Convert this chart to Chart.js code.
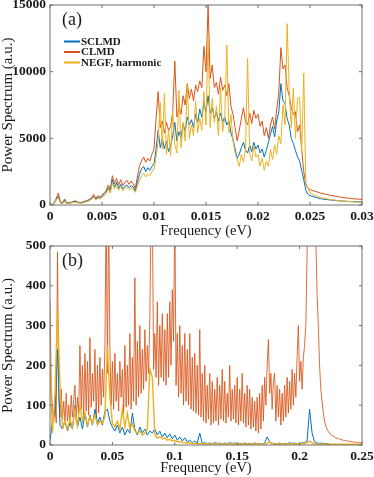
<!DOCTYPE html>
<html>
<head>
<meta charset="utf-8">
<script src="https://cdn.jsdelivr.net/npm/chart.js@4.4.0/dist/chart.umd.min.js"></script>
<style>
  html, body { margin: 0; padding: 0; background: #fff; }
  #wrap { position: relative; width: 374px; height: 477px; }
  #chartA { position: absolute; left: 0; top: 0; }
  #chartB { position: absolute; left: 0; top: 240px; }
</style>
</head>
<body>
<div id="wrap">
  <canvas id="chartA" width="374" height="240"></canvas>
  <canvas id="chartB" width="374" height="237"></canvas>
</div>
<script>
const seriesNames = ['SCLMD', 'CLMD', 'NEGF, harmonic'];
const seriesColors = ['#0072BD', '#D95319', '#EDB120'];

// panel (a): 0 - 0.03 eV
const freqA = [
  0,0.0002,0.0004,0.0006,0.0008,0.001,0.0012,0.0014,0.0016,0.0018,
  0.002,0.0022,0.0024,0.0026,0.0028,0.003,0.0032,0.0034,0.0036,0.0038,
  0.004,0.0042,0.0044,0.0046,0.0048,0.005,0.0052,0.0054,0.0056,0.0058,
  0.006,0.0062,0.0064,0.0066,0.0068,0.007,0.0072,0.0074,0.0076,0.0078,
  0.008,0.0082,0.0084,0.0086,0.0088,0.009,0.0092,0.0094,0.0096,0.0098,
  0.01,0.0102,0.0104,0.0106,0.0108,0.011,0.0112,0.0114,0.0116,0.0118,
  0.012,0.0122,0.0124,0.0126,0.0128,0.013,0.0132,0.0134,0.0136,0.0138,
  0.014,0.0142,0.0144,0.0146,0.0148,0.015,0.0152,0.0154,0.0156,0.0158,
  0.016,0.0162,0.0164,0.0166,0.0168,0.017,0.0172,0.0174,0.0176,0.0178,
  0.018,0.0182,0.0184,0.0186,0.0188,0.019,0.0192,0.0194,0.0196,0.0198,
  0.02,0.0202,0.0204,0.0206,0.0208,0.021,0.0212,0.0214,0.0216,0.0218,
  0.022,0.0222,0.0224,0.0226,0.0228,0.023,0.0232,0.0234,0.0236,0.0238,
  0.024,0.0242,0.0244,0.0246,0.0248,0.025,
  0.026,0.027,0.028,0.029,0.03
];
const sclmdA = [
  0,40,120,400,650,200,120,350,130,150,
  170,210,270,210,170,160,210,250,300,380,
  480,650,420,600,500,640,780,950,1300,1050,
  1900,1350,1700,1250,1550,1200,1400,1500,1300,1450,
  1350,1050,1700,2300,2700,2900,2500,2800,2600,2900,
  3100,4200,5600,4300,5000,4200,4800,4000,4400,5200,
  6200,4800,5500,5000,6100,5500,6600,6000,6400,5800,
  6800,6200,7200,6600,7700,7000,8200,6900,7300,6500,
  7000,6300,6900,6200,6600,6000,6300,5400,4900,4200,
  3500,3800,4300,4700,4100,3900,4500,4000,4700,4200,
  4500,3900,4200,3600,4100,4700,5300,5900,5100,6300,
  7000,9100,7800,7600,6500,6000,5000,4600,4100,3600,
  3300,2600,1900,1100,800,700,
  470,370,300,260,230
];
const clmdA = [
  0,50,150,500,900,250,150,450,150,180,
  200,250,320,250,200,180,250,300,350,450,
  550,800,500,700,600,750,900,1100,1500,1200,
  2200,1600,2000,1500,1900,1450,1700,1850,1550,1800,
  1600,1250,2100,2900,3300,3600,3200,3500,3300,3800,
  4200,6500,8500,5800,6300,5400,6200,5600,5900,7000,
  10800,6600,7400,6800,8200,7500,9100,8000,8700,7800,
  9000,8500,9300,8800,11900,10000,15000,9500,10500,8800,
  9200,8300,9600,8600,9000,8200,9100,7400,6800,5800,
  4800,5600,6500,7300,6200,6000,6900,6100,7100,6500,
  6800,5900,6300,5200,5800,5000,6000,6600,5700,7200,
  8400,11800,10200,10500,8800,8200,7300,6800,7000,5500,
  6000,4200,2500,1600,1300,1150,
  900,720,580,480,420
];
const negfA = [
  0,30,100,400,550,150,100,300,120,130,
  150,180,220,180,150,140,170,220,260,330,
  420,600,380,520,450,560,700,850,1200,900,
  1700,1200,1500,1100,1400,1050,1250,1350,1150,1300,
  1200,950,1400,1800,2200,2400,2100,2300,2200,2500,
  2700,3600,4800,7700,4200,8400,3800,5600,3700,7000,
  4500,3900,8600,4300,6200,4800,9000,5000,6000,5200,
  7800,5400,6500,5600,8500,6000,12600,5800,8000,6200,
  7400,5200,8800,5500,6600,12000,5400,6800,4800,3900,
  3400,2900,3800,3200,4200,11000,3900,3300,4500,3600,
  3800,2900,3500,2600,3300,2900,4200,3400,4500,3800,
  5200,4600,7500,6000,13600,8600,5800,8800,5000,8000,
  8100,4000,9900,1500,1300,900,
  560,400,300,240,200
];
const xTicksA = ['0', '0.005', '0.01', '0.015', '0.02', '0.025', '0.03'];
const yTicksA = ['0', '5000', '10000', '15000'];

// panel (b): 0 - 0.25 eV, SCLMD and NEGF sampled every 0.002 eV
const freqB = [
  0,0.002,0.004,0.006,0.008,0.01,0.012,0.014,0.016,0.018,
  0.02,0.022,0.024,0.026,0.028,0.03,0.032,0.034,0.036,0.038,
  0.04,0.042,0.044,0.046,0.048,0.05,0.052,0.054,0.056,0.058,
  0.06,0.062,0.064,0.066,0.068,0.07,0.072,0.074,0.076,0.078,
  0.08,0.082,0.084,0.086,0.088,0.09,0.092,0.094,0.096,0.098,
  0.1,0.102,0.104,0.106,0.108,0.11,0.112,0.114,0.116,0.118,
  0.12,0.122,0.124,0.126,0.128,0.13,0.132,0.134,0.136,0.138,
  0.14,0.142,0.144,0.146,0.148,0.15,0.152,0.154,0.156,0.158,
  0.16,0.162,0.164,0.166,0.168,0.17,0.172,0.174,0.176,0.178,
  0.18,0.182,0.184,0.186,0.188,0.19,0.192,0.194,0.196,0.198,
  0.2,0.202,0.204,0.206,0.208,0.21,0.212,0.214,0.216,0.218,
  0.22,0.222,0.224,0.226,0.228,0.23,0.232,0.234,0.236,0.238,
  0.24,0.242,0.244,0.246,0.248,0.25
];
const sclmdB = [
  10,60,80,240,50,40,60,35,55,40,
  100,45,70,40,80,45,75,50,90,55,
  70,50,85,90,60,45,35,50,30,45,
  25,40,30,80,40,25,45,30,40,25,
  35,30,40,25,35,20,30,18,28,15,
  25,12,20,10,18,8,12,6,10,5,
  30,4,6,3,5,3,6,4,5,3,
  5,3,6,4,5,3,4,3,5,3,
  4,3,5,3,4,3,5,20,8,4,
  4,3,5,3,4,3,6,4,5,3,
  4,5,6,10,90,30,8,5,4,5,
  3,4,2,1,1,1,1,1,1,1,
  1,1,1,1,1,1
];
const negfB = [
  200,30,130,340,150,45,60,40,65,45,
  90,50,100,60,80,50,70,55,75,50,
  60,55,70,250,120,55,45,60,40,90,
  45,80,40,55,35,30,35,25,30,40,
  190,170,25,18,20,15,18,12,14,10,
  12,8,8,6,6,5,5,4,4,3,
  3,3,2,3,2,3,2,3,2,3,
  2,3,2,3,2,3,2,3,2,3,
  2,3,2,3,2,3,2,4,8,3,
  2,3,2,3,2,3,2,3,2,3,
  3,3,4,6,10,5,3,2,2,2,
  2,2,2,2,2,2,2,2,2,2,
  2,2,2,2,2,2
];
// CLMD in panel (b) is much noisier, sampled every 0.001 eV
const freqBFine = [
  0,0.001,0.002,0.003,0.004,0.005,0.006,0.007,0.008,0.009,
  0.01,0.011,0.012,0.013,0.014,0.015,0.016,0.017,0.018,0.019,
  0.02,0.021,0.022,0.023,0.024,0.025,0.026,0.027,0.028,0.029,
  0.03,0.031,0.032,0.033,0.034,0.035,0.036,0.037,0.038,0.039,
  0.04,0.041,0.042,0.043,0.044,0.045,0.046,0.047,0.048,0.049,
  0.05,0.051,0.052,0.053,0.054,0.055,0.056,0.057,0.058,0.059,
  0.06,0.061,0.062,0.063,0.064,0.065,0.066,0.067,0.068,0.069,
  0.07,0.071,0.072,0.073,0.074,0.075,0.076,0.077,0.078,0.079,
  0.08,0.081,0.082,0.083,0.084,0.085,0.086,0.087,0.088,0.089,
  0.09,0.091,0.092,0.093,0.094,0.095,0.096,0.097,0.098,0.099,
  0.1,0.101,0.102,0.103,0.104,0.105,0.106,0.107,0.108,0.109,
  0.11,0.111,0.112,0.113,0.114,0.115,0.116,0.117,0.118,0.119,
  0.12,0.121,0.122,0.123,0.124,0.125,0.126,0.127,0.128,0.129,
  0.13,0.131,0.132,0.133,0.134,0.135,0.136,0.137,0.138,0.139,
  0.14,0.141,0.142,0.143,0.144,0.145,0.146,0.147,0.148,0.149,
  0.15,0.151,0.152,0.153,0.154,0.155,0.156,0.157,0.158,0.159,
  0.16,0.161,0.162,0.163,0.164,0.165,0.166,0.167,0.168,0.169,
  0.17,0.171,0.172,0.173,0.174,0.175,0.176,0.177,0.178,0.179,
  0.18,0.181,0.182,0.183,0.184,0.185,0.186,0.187,0.188,0.189,
  0.19,0.191,0.192,0.193,0.194,0.195,0.196,0.197,0.198,0.199,
  0.2,0.201,0.202,0.203,0.204,0.205,0.206,0.207,0.208,0.209,
  0.21,0.211,0.212,0.213,0.214,0.215,0.216,0.217,0.218,0.219,
  0.22,0.221,0.222,0.223,0.224,0.225,0.226,0.227,0.228,0.229,
  0.23,0.231,0.232,0.233,0.234,0.235,0.236,0.237,0.238,0.239,
  0.24,0.241,0.242,0.243,0.244,0.245,0.246,0.247,0.248,0.249,
  0.25
];
const clmdB = [
  360,150,90,60,100,55,485,120,70,140,
  65,110,55,130,60,100,50,125,70,115,
  150,60,120,80,250,90,200,70,230,85,
  210,75,270,95,180,110,240,70,200,80,
  220,100,190,120,250,600,180,600,240,100,
  210,90,230,110,180,85,210,120,190,80,
  250,95,200,100,280,90,220,110,420,100,
  260,120,300,130,240,140,290,160,250,180,
  320,600,600,190,280,170,360,150,300,170,
  330,160,290,150,330,170,360,200,390,260,
  600,150,280,120,300,130,250,100,280,110,
  240,100,280,90,220,85,230,80,200,75,
  290,70,180,60,200,55,150,65,180,50,
  160,55,140,60,170,50,150,65,190,60,
  160,55,130,70,200,60,140,65,150,55,
  170,50,140,60,180,55,130,45,150,50,
  140,40,120,45,110,35,120,30,130,40,
  150,60,170,100,200,265,130,180,90,160,
  180,60,150,70,140,50,130,60,150,70,
  170,80,160,90,190,100,180,120,220,300,
  160,210,140,220,250,300,480,600,600,600,
  600,600,600,520,380,300,200,140,110,80,
  60,48,40,34,30,26,24,22,20,18,
  17,16,15,14,13,12,11,11,10,10,
  9,9,8,8,7,7,7,6,6,6,
  5
];
const xTicksB = ['0', '0.05', '0.1', '0.15', '0.2', '0.25'];
const yTicksB = ['0', '100', '200', '300', '400', '500'];

const serif = '"Liberation Serif", "DejaVu Serif", serif';
const ink = '#1a1a1a';

const toPoints = (xs, ys) => xs.map((x, i) => ({ x: x, y: ys[i] }));

// frame, inward ticks, panel letter and legend
const decor = {
  id: 'decor',
  afterDatasetsDraw(chart, args, opts) {
    const ctx = chart.ctx;
    const a = chart.chartArea;
    const sx = chart.scales.x, sy = chart.scales.y;
    ctx.save();
    ctx.strokeStyle = '#707070';
    ctx.lineWidth = 1;
    ctx.strokeRect(a.left, a.top, a.right - a.left, a.bottom - a.top);
    ctx.beginPath();
    sx.ticks.forEach(t => {
      const px = sx.getPixelForValue(t.value);
      ctx.moveTo(px, a.bottom); ctx.lineTo(px, a.bottom - 3);
      ctx.moveTo(px, a.top); ctx.lineTo(px, a.top + 3);
    });
    sy.ticks.forEach(t => {
      const py = sy.getPixelForValue(t.value);
      ctx.moveTo(a.left, py); ctx.lineTo(a.left + 3, py);
      ctx.moveTo(a.right, py); ctx.lineTo(a.right - 3, py);
    });
    ctx.stroke();

    ctx.fillStyle = ink;
    ctx.textBaseline = 'middle';
    ctx.textAlign = 'left';
    ctx.font = '18px ' + serif;
    ctx.fillText(opts.label, a.left + 12, a.top + 15);

    if (opts.legend) {
      ctx.font = 'bold 11px ' + serif;
      chart.data.datasets.forEach((ds, i) => {
        const y = a.top + 36.5 + i * 10.5;
        ctx.strokeStyle = ds.borderColor;
        ctx.lineWidth = 2;
        ctx.beginPath();
        ctx.moveTo(a.left + 14, y);
        ctx.lineTo(a.left + 30, y);
        ctx.stroke();
        ctx.fillStyle = ink;
        ctx.fillText(ds.label, a.left + 31, y + 0.5);
      });
    }
    ctx.restore();
  }
};

function makeChart(id, cfg) {
  return new Chart(document.getElementById(id), {
    type: 'line',
    data: {
      datasets: [
        { label: seriesNames[0], data: toPoints(cfg.freq, cfg.sclmd), borderColor: seriesColors[0], borderWidth: 1, order: 1 },
        { label: seriesNames[1], data: toPoints(cfg.clmdFreq, cfg.clmd), borderColor: cfg.clmdColor, borderWidth: 1, order: 2 },
        { label: seriesNames[2], data: toPoints(cfg.freq, cfg.negf), borderColor: seriesColors[2], borderWidth: cfg.negfWidth, order: 0 }
      ]
    },
    options: {
      responsive: false,
      animation: false,
      devicePixelRatio: 1,
      elements: { point: { radius: 0 }, line: { tension: 0 } },
      layout: { padding: { top: cfg.padTop, right: 12, bottom: 0, left: 0 } },
      plugins: {
        legend: { display: false },
        tooltip: { enabled: false },
        decor: { label: cfg.label, legend: cfg.legend }
      },
      scales: {
        x: {
          type: 'linear', min: 0, max: cfg.xMax,
          grid: { display: false, drawTicks: false },
          border: { display: false },
          ticks: {
            stepSize: cfg.xStep, autoSkip: false, maxRotation: 0, padding: 3, color: ink,
            font: { family: serif, size: 13.5, weight: 'bold' },
            callback: (v, i) => cfg.xTicks[i]
          },
          title: { display: true, text: 'Frequency (eV)', color: ink, padding: 0,
                   font: { family: serif, size: 14.5, lineHeight: 1.2 } },
          afterFit: s => { s.height = cfg.xAxisH; s.paddingLeft = 0; s.paddingRight = 0; }
        },
        y: {
          min: 0, max: cfg.yMax,
          grid: { display: false, drawTicks: false },
          border: { display: false },
          ticks: {
            stepSize: cfg.yStep, padding: 4, color: ink,
            font: { family: serif, size: 13.5, weight: 'bold' },
            callback: (v, i) => cfg.yTicks[i]
          },
          title: { display: true, text: 'Power Spectrum (a.u.)', color: ink, padding: 0,
                   font: { family: serif, size: 15, lineHeight: 1.1 } },
          afterFit: s => { s.width = 50; s.paddingTop = 0; s.paddingBottom = 0; }
        }
      }
    },
    plugins: [decor]
  });
}

makeChart('chartA', {
  freq: freqA, sclmd: sclmdA, clmdFreq: freqA, clmd: clmdA, negf: negfA,
  clmdColor: seriesColors[1], negfWidth: 1,
  xMax: 0.03, xStep: 0.005, xTicks: xTicksA,
  yMax: 15000, yStep: 5000, yTicks: yTicksA,
  padTop: 5, xAxisH: 35, label: '(a)', legend: true
});

makeChart('chartB', {
  freq: freqB, sclmd: sclmdB, clmdFreq: freqBFine, clmd: clmdB, negf: negfB,
  clmdColor: 'rgba(217,83,25,0.85)', negfWidth: 1.4,
  xMax: 0.25, xStep: 0.05, xTicks: xTicksB,
  yMax: 500, yStep: 100, yTicks: yTicksB,
  padTop: 6, xAxisH: 32, label: '(b)', legend: false
});
</script>
</body>
</html>
